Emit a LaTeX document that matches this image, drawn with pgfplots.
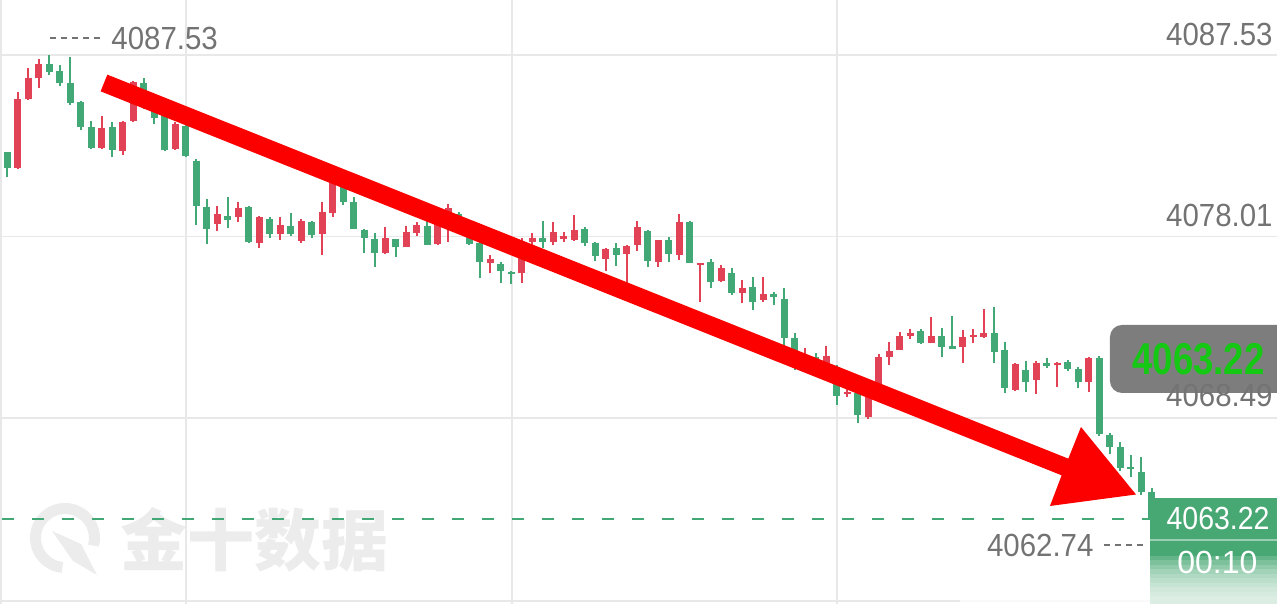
\documentclass[border=0pt]{standalone}
\usepackage{pgfplots}
\pgfplotsset{compat=1.18}
\usepackage{fontspec}
\setmainfont{Liberation Sans}
\newfontfamily\cjk{Noto Sans CJK SC}
\definecolor{cred}{RGB}{226,66,86}
\definecolor{cgreen}{RGB}{66,168,118}
\definecolor{arrowred}{RGB}{252,0,0}
\definecolor{gridc}{RGB}{232,232,232}
\definecolor{labc}{RGB}{115,115,115}
\definecolor{boxgrey}{RGB}{125,125,125}
\definecolor{boxgreen}{RGB}{72,168,116}
\definecolor{brightg}{RGB}{20,200,20}
\definecolor{wm}{RGB}{236,236,236}
% candle: index, open, high, low, close
\newcommand{\candR}[5]{%
 \addplot[cred, line width=1bp] coordinates {(#1,#4) (#1,#3)};
 \addplot[cred, line width=3.5bp] coordinates {(#1,#2) (#1,#5)};}
\newcommand{\candG}[5]{%
 \addplot[cgreen, line width=1bp] coordinates {(#1,#4) (#1,#3)};
 \addplot[cgreen, line width=3.5bp] coordinates {(#1,#2) (#1,#5)};}
\newcommand{\lab}[1]{\scalebox{0.92}[1]{#1}}
\begin{document}
\begin{tikzpicture}
% watermark and borders (pixel coordinates)
\begin{scope}[shift={(0bp,302bp)}, x=0.5bp, y=-0.5bp]
 \draw[gridc, line width=0.75bp] (1,0) -- (1,604);
 \draw[gridc, line width=0.75bp] (0,601) -- (1277,601);
 \draw[wm, line width=5.5bp] (65,538) ++(95:29.5) arc[start angle=95, end angle=375, radius=29.5];
 \fill[wm] (52,531) -- (81,544) -- (97,575) -- (73,561) -- cycle;
 \node[anchor=west, inner sep=0, text=wm, font=\cjk\bfseries\fontsize{33.5bp}{34bp}\selectfont] at (120,540) {金十数据};
\end{scope}
\begin{axis}[
 at={(0,0)}, anchor=south west,
 width=638.5bp, height=302bp, scale only axis,
 xmin=-0.6952, xmax=120.924, ymin=4058.741, ymax=4090.414,
 axis line style={draw=none},
 xtick={17.02,48.07,79.02}, ytick={4068.49,4078.01,4087.53},
 xticklabels={}, yticklabels={},
 major tick length=0pt,
 grid=major, grid style={gridc, line width=0.75bp},
 clip=false,
]
\candG{0}{4082.43}{4082.45}{4081.15}{4081.62}
\candR{1}{4081.62}{4085.61}{4081.55}{4085.22}
\candR{2}{4085.21}{4086.83}{4085.15}{4086.34}
\candR{3}{4086.31}{4087.30}{4085.82}{4087.06}
\candG{4}{4087.06}{4087.53}{4086.48}{4086.65}
\candG{5}{4086.69}{4087.01}{4085.90}{4086.08}
\candG{6}{4086.08}{4087.45}{4084.91}{4085.03}
\candG{7}{4085.05}{4085.10}{4083.60}{4083.74}
\candG{8}{4083.74}{4084.05}{4082.60}{4082.67}
\candR{9}{4082.67}{4084.33}{4082.60}{4083.69}
\candG{10}{4083.74}{4084.03}{4082.17}{4082.55}
\candR{11}{4082.50}{4084.05}{4082.29}{4084.03}
\candR{12}{4084.07}{4086.17}{4084.00}{4086.10}
\candG{13}{4086.05}{4086.31}{4084.70}{4084.82}
\candG{14}{4084.82}{4085.00}{4083.90}{4084.20}
\candG{15}{4084.44}{4084.60}{4082.50}{4082.55}
\candR{16}{4082.58}{4084.00}{4082.55}{4083.90}
\candG{17}{4083.81}{4083.85}{4082.20}{4082.23}
\candG{18}{4081.99}{4082.05}{4078.62}{4079.63}
\candG{19}{4079.58}{4079.96}{4077.62}{4078.39}
\candR{20}{4078.67}{4079.63}{4078.32}{4079.18}
\candG{21}{4079.10}{4080.07}{4078.44}{4078.88}
\candR{22}{4079.02}{4079.81}{4078.76}{4079.52}
\candG{23}{4079.54}{4079.61}{4077.69}{4077.74}
\candR{24}{4077.69}{4079.09}{4077.39}{4079.02}
\candG{25}{4078.93}{4079.05}{4077.95}{4078.14}
\candR{26}{4078.14}{4079.02}{4077.83}{4078.62}
\candG{27}{4078.58}{4079.23}{4078.05}{4078.14}
\candR{28}{4077.79}{4078.91}{4077.69}{4078.84}
\candG{29}{4078.77}{4078.80}{4077.92}{4078.09}
\candR{30}{4078.14}{4079.81}{4077.04}{4079.28}
\candR{31}{4079.23}{4081.00}{4079.02}{4080.89}
\candG{32}{4080.71}{4080.90}{4079.66}{4079.84}
\candG{33}{4079.84}{4080.10}{4078.38}{4078.41}
\candG{34}{4078.35}{4078.40}{4077.13}{4077.92}
\candG{35}{4077.88}{4078.18}{4076.43}{4077.13}
\candR{36}{4077.13}{4078.53}{4077.10}{4077.95}
\candG{37}{4077.88}{4077.90}{4076.92}{4077.48}
\candR{38}{4077.48}{4078.56}{4077.45}{4078.26}
\candR{39}{4078.21}{4078.76}{4078.04}{4078.62}
\candG{40}{4078.58}{4078.88}{4077.55}{4077.57}
\candR{41}{4077.60}{4079.00}{4077.55}{4078.77}
\candR{42}{4078.77}{4079.70}{4077.71}{4079.51}
\candG{43}{4079.20}{4079.30}{4078.30}{4078.46}
\candG{44}{4078.30}{4078.40}{4077.55}{4077.62}
\candG{45}{4077.66}{4077.80}{4075.82}{4076.69}
\candR{46}{4076.64}{4077.04}{4076.08}{4076.83}
\candG{47}{4076.57}{4076.69}{4075.56}{4076.22}
\candG{48}{4076.17}{4076.20}{4075.51}{4076.05}
\candR{49}{4076.08}{4077.93}{4075.56}{4077.30}
\candR{50}{4077.74}{4078.18}{4077.57}{4077.92}
\candG{51}{4077.92}{4078.84}{4077.39}{4077.74}
\candR{52}{4077.74}{4078.79}{4077.57}{4078.26}
\candR{53}{4077.87}{4078.26}{4077.71}{4078.04}
\candR{54}{4077.83}{4079.14}{4077.80}{4078.35}
\candG{55}{4078.39}{4078.53}{4077.53}{4077.69}
\candG{56}{4077.69}{4077.74}{4076.73}{4076.99}
\candR{57}{4076.82}{4077.39}{4076.20}{4077.34}
\candG{58}{4077.39}{4077.69}{4076.48}{4077.04}
\candR{59}{4077.08}{4077.55}{4075.59}{4077.53}
\candR{60}{4077.57}{4078.84}{4077.27}{4078.53}
\candG{61}{4078.32}{4078.35}{4076.40}{4076.74}
\candR{62}{4076.69}{4077.85}{4076.43}{4077.83}
\candG{63}{4077.83}{4077.97}{4076.66}{4077.08}
\candR{64}{4077.04}{4079.19}{4076.78}{4078.79}
\candG{65}{4078.79}{4078.80}{4076.62}{4076.64}
\candR{66}{4076.53}{4076.62}{4074.59}{4076.61}
\candG{67}{4076.69}{4076.82}{4075.30}{4075.64}
\candR{68}{4075.69}{4076.52}{4075.65}{4076.34}
\candG{69}{4076.11}{4076.34}{4074.94}{4075.03}
\candR{70}{4075.03}{4075.73}{4074.51}{4075.29}
\candG{71}{4075.38}{4075.90}{4074.16}{4074.59}
\candR{72}{4074.68}{4075.90}{4074.60}{4074.98}
\candG{73}{4074.98}{4075.12}{4074.42}{4074.86}
\candG{74}{4074.74}{4075.30}{4072.23}{4072.67}
\candG{75}{4072.67}{4072.94}{4071.00}{4071.18}
\candR{76}{4071.12}{4072.15}{4070.90}{4071.80}
\candG{77}{4071.69}{4071.90}{4070.90}{4071.12}
\candR{78}{4071.01}{4072.27}{4070.80}{4071.75}
\candG{79}{4071.18}{4071.27}{4069.18}{4069.65}
\candR{80}{4069.75}{4070.14}{4069.61}{4069.87}
\candG{81}{4069.82}{4070.14}{4068.22}{4068.65}
\candR{82}{4068.56}{4069.90}{4068.43}{4069.65}
\candR{83}{4070.17}{4071.85}{4069.90}{4071.71}
\candR{84}{4071.71}{4072.50}{4071.27}{4072.01}
\candR{85}{4072.06}{4072.99}{4072.05}{4072.80}
\candR{86}{4072.81}{4073.15}{4072.62}{4072.94}
\candG{87}{4073.07}{4073.15}{4072.40}{4072.44}
\candR{88}{4072.44}{4073.77}{4072.41}{4072.81}
\candG{89}{4072.81}{4073.20}{4071.71}{4072.23}
\candG{90}{4072.27}{4073.84}{4072.10}{4072.11}
\candR{91}{4072.20}{4073.11}{4071.36}{4072.76}
\candR{92}{4072.73}{4073.15}{4072.41}{4072.85}
\candR{93}{4072.73}{4074.21}{4072.70}{4072.94}
\candG{94}{4072.94}{4074.33}{4071.36}{4071.94}
\candG{95}{4072.06}{4072.46}{4069.79}{4070.05}
\candR{96}{4069.96}{4071.36}{4069.90}{4071.31}
\candG{97}{4071.01}{4071.50}{4069.87}{4070.37}
\candR{98}{4070.49}{4071.48}{4069.74}{4071.36}
\candG{99}{4071.36}{4071.66}{4071.10}{4071.24}
\candR{100}{4071.27}{4071.45}{4070.14}{4071.40}
\candG{101}{4071.45}{4071.54}{4070.96}{4071.06}
\candG{102}{4071.06}{4071.18}{4070.08}{4070.37}
\candR{103}{4070.37}{4071.70}{4069.84}{4071.66}
\candG{104}{4071.66}{4071.75}{4067.57}{4067.64}
\candG{105}{4067.60}{4067.69}{4066.59}{4066.99}
\candG{106}{4066.99}{4067.25}{4065.71}{4065.86}
\candG{107}{4065.94}{4066.55}{4065.42}{4065.82}
\candG{108}{4065.68}{4066.46}{4064.46}{4064.63}
\candG{109}{4064.63}{4064.80}{4062.74}{4063.22}
% current price line
\addplot[cgreen, line width=1bp, dash pattern=on 6bp off 9bp] coordinates {(-0.55,4063.22) (109.3,4063.22)};
\end{axis}
% annotations (pixel coordinates)
\begin{scope}[shift={(0bp,302bp)}, x=0.5bp, y=-0.5bp, font=\fontsize{16bp}{18bp}\selectfont]
 % arrow
 \fill[arrowred] (107.35,74.65) -- (1068.35,458.65) -- (1081,427) -- (1136,494.5) -- (1050,506) -- (1061.65,475.35) -- (100.65,91.35) -- cycle;
 % max label
 \draw[labc, line width=1bp, dash pattern=on 3bp off 2.5bp] (50,38) -- (104,38);
 \node[anchor=base west, inner sep=0, text=labc] at (111,49.3) {\lab{4087.53}};
 % right axis labels
 \node[anchor=base east, inner sep=0, text=labc] at (1273,46) {\lab{4087.53}};
 \node[anchor=base east, inner sep=0, text=labc] at (1273,226.5) {\lab{4078.01}};
 % grey box
 \fill[boxgrey, rounded corners=6bp] (1110,325) rectangle (1300,393);
 \node[anchor=base east, inner sep=0, text=brightg, font=\bfseries\fontsize{22.3bp}{24bp}\selectfont] at (1265,375) {\scalebox{0.82}[1]{4063.22}};
 \node[anchor=base east, inner sep=0, text=labc] at (1273,407) {\lab{4068.49}};
 % min label
 \node[anchor=base west, inner sep=0, text=labc] at (986.7,557) {\lab{4062.74}};
 \draw[labc, line width=1bp, dash pattern=on 3bp off 2.5bp] (1104,545) -- (1148,545);
 % green price box
 \fill[boxgreen] (1150,498) rectangle (1277,604);
 \draw[white, opacity=0.45, line width=0.75bp] (1150,540) -- (1277,540);
 \node[anchor=base east, inner sep=0, text=white] at (1270,530) {\scalebox{0.89}[1]{4063.22}};
 \node[anchor=base west, inner sep=0, text=white] at (1177,574) {00:10};
 % white fade at the bottom
 \foreach \k in {0,...,9} {\fill[white, opacity=0.16] (960,{556+4.5*\k}) rectangle (1277,604);}
\end{scope}
\pgfresetboundingbox
\path[use as bounding box] (0,0) rectangle (638.5bp,302bp);
\end{tikzpicture}
\end{document}
